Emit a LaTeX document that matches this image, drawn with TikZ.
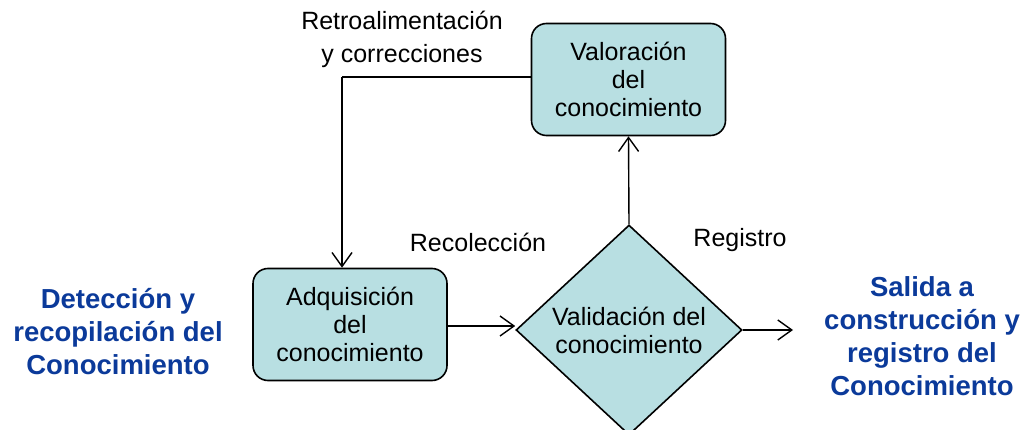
\documentclass[tikz,border=0pt]{standalone}
\usepackage{fontspec}
\setmainfont{Liberation Sans}
\usetikzlibrary{shapes.geometric,arrows.meta}
\definecolor{boxfill}{HTML}{B8DFE2}
\definecolor{titleblue}{HTML}{0B3A9A}
\tikzset{
  etapa/.style={draw, line width=1.6pt, fill=boxfill, rounded corners=15pt,
    minimum width=194pt, minimum height=112pt, align=center,
    font=\fontsize{25}{28}\selectfont},
  decision/.style={draw, diamond, line width=1.6pt, fill=boxfill, inner sep=0pt,
    minimum width=226pt, minimum height=210pt, align=center,
    font=\fontsize{25}{28}\selectfont},
  flujo/.style={line width=1.4pt, -{Straight Barb[length=14pt,width=20pt,line width=1.4pt]}},
  rotulo/.style={align=center, font=\fontsize{25}{33}\selectfont},
  titulo/.style={align=center, text=titleblue, font=\bfseries\fontsize{27.5}{33}\selectfont}
}
\begin{document}
\begin{tikzpicture}[x=1pt,y=-1pt]
\useasboundingbox (0,0) rectangle (1027,430);

\node[etapa] (adq) at (350,324.5) {Adquisición\\del\\conocimiento};
\node[etapa] (valo) at (628.5,79.5) {Valoración\\del\\conocimiento};
\node[decision] (valid) at (629,330) {Validación del\\conocimiento};

\coordinate (fb) at (342,77);
\coordinate (out) at (793,330);

\draw[line width=1.4pt] (valo.west |- fb) -- (fb);
\draw[flujo] (fb) -- (fb |- adq.north);
\draw[flujo] (adq.east |- 0,326) -- (valid.west |- 0,326);
\draw[flujo] (valid.east) -- (out);
\draw[flujo] (valid.north) -- (valo.south);

\node[rotulo] (retro) at (402,39) {Retroalimentación\\y correcciones};
\node[rotulo] (recol) at (478,242) {Recolección};
\node[rotulo] (regis) at (740,240) {Registro};

\node[titulo] (deteccion) at (118,332) {Detección y\\recopilación del\\Conocimiento};
\node[titulo] (salida) at (922,336) {Salida a\\construcción y\\registro del\\Conocimiento};
\end{tikzpicture}
\end{document}
